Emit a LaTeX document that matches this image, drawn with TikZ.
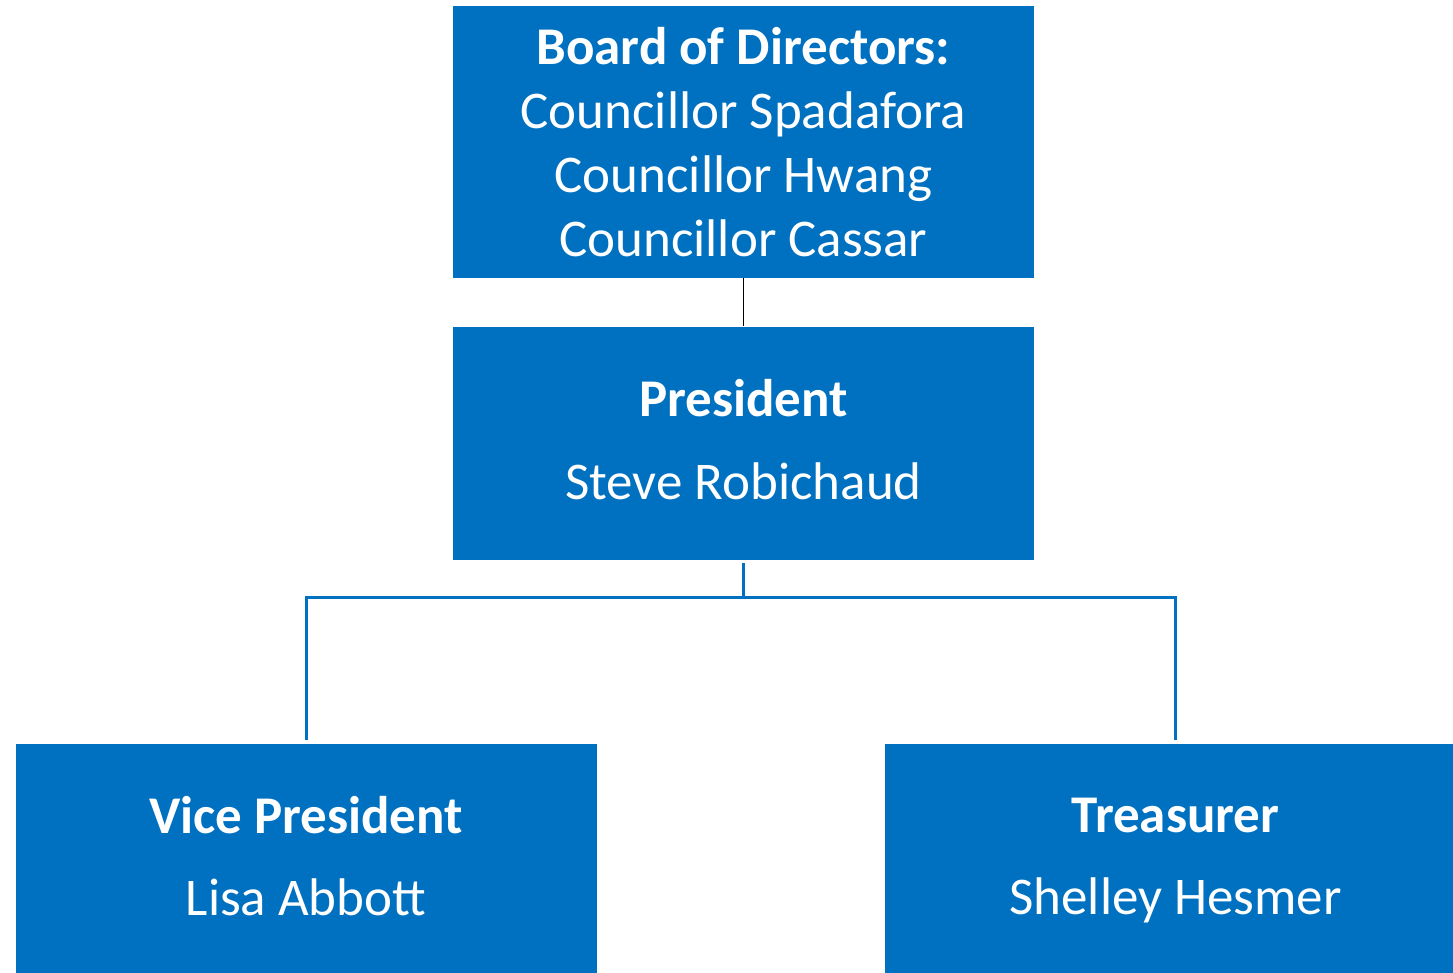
\documentclass[tikz,border=0pt]{standalone}
\usepackage{fontspec}
\setmainfont{Carlito}
\usetikzlibrary{positioning}
\definecolor{boxblue}{HTML}{0070C0}

\begin{document}
\begin{tikzpicture}[officebox/.style={rectangle, fill=boxblue, text=white, align=center, inner sep=0pt, minimum width=290.5pt, font=\fontsize{26.5}{32}\selectfont},
 link/.style={draw=boxblue, line width=1.5pt}]
 \useasboundingbox (0,0) rectangle (726.5pt,-486.5pt);

 \node[officebox, minimum height=136pt] (board) at (371.75pt,-71pt) {\textbf{Board of Directors:}\\Councillor Spadafora\\Councillor Hwang\\Councillor Cassar};
 \node[officebox, minimum height=116.5pt, below=24pt of board] (pres) {\textbf{President}\\[9.5pt]Steve Robichaud\vphantom{y}};
 \node[officebox, minimum height=116.5pt] (vp) at (153pt,-430.25pt) {\textbf{Vice President}\\[9pt]Lisa Abbott\vphantom{y}};
 \node[officebox, minimum height=116.5pt] (treas) at (587.75pt,-430.25pt) {\textbf{Treasurer}\\[9pt]Shelley Hesmer};

 \draw[line width=0.5pt] (board) -- (pres);
 \coordinate[below=18.5pt of pres.south] (split);
 \draw[link, shorten <=1.5pt] (pres.south) -- (split);
 \draw[link, shorten >=2pt] (split) -| (vp.north);
 \draw[link, shorten >=2pt] (split) -| (treas.north);
\end{tikzpicture}
\end{document}
